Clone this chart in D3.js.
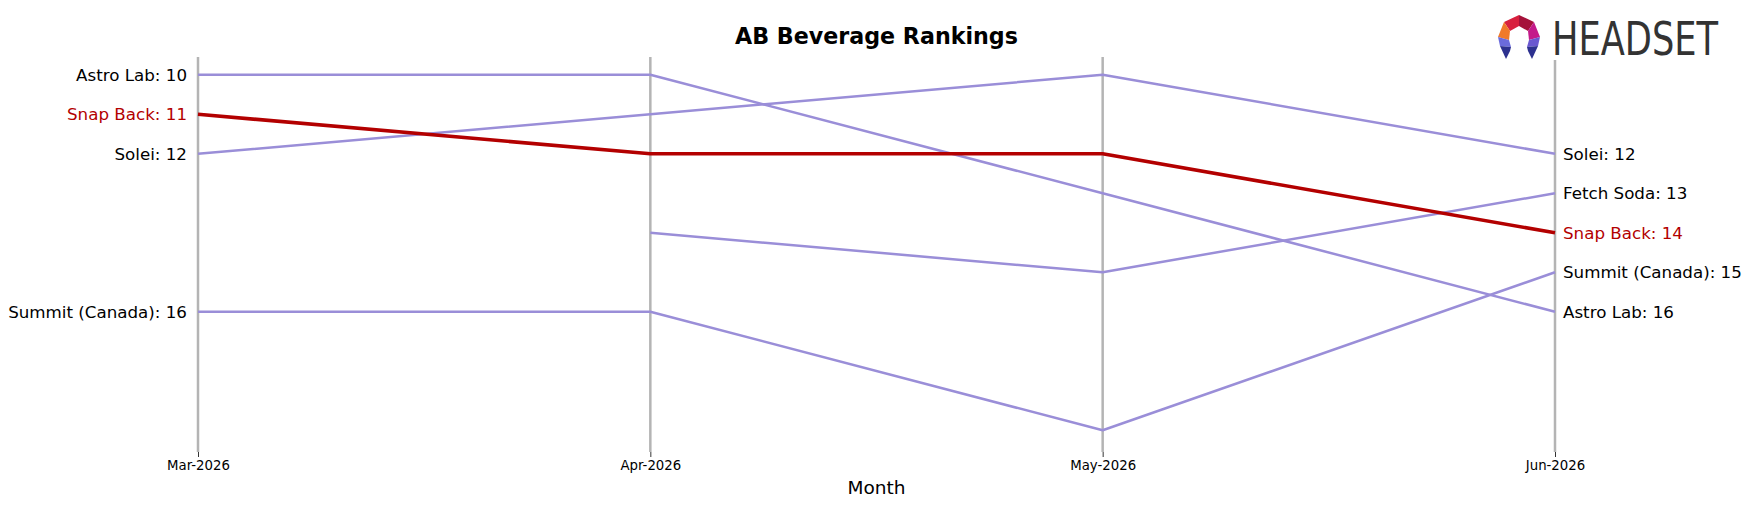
<!DOCTYPE html>
<html>
<head>
<meta charset="utf-8">
<script src="https://cdn.jsdelivr.net/npm/d3@7"></script>
<style>
  body { margin: 0; background: #fff; }
  text { font-family: "DejaVu Sans", sans-serif; }
</style>
</head>
<body>
<div id="chart"></div>
<script>
// data
const months = ["Mar-2026", "Apr-2026", "May-2026", "Jun-2026"];
const brands = ["Astro Lab", "Solei", "Fetch Soda", "Summit (Canada)", "Snap Back"];
const astroLab = [10, 10, 13, 16];
const solei = [12, 11, 10, 12];
const fetchSoda = [null, 14, 15, 13];
const summitCanada = [16, 16, 19, 15];
const snapBack = [11, 12, 12, 14];
const highlight = "Snap Back";

const rankRows = [astroLab, solei, fetchSoda, summitCanada, snapBack];

const width = 1751,
  height = 507,
  margin = { top: 57, right: 196, bottom: 55, left: 198 };

const purple = "#9a8ed8",
  red = "#b30000";

const svg = d3
  .select("#chart")
  .append("svg")
  .attr("width", width)
  .attr("height", height)
  .attr("viewBox", [0, 0, width, height]);

const x = d3
  .scalePoint()
  .domain(months)
  .range([margin.left, width - margin.right]);

const y = d3
  .scaleLinear()
  .domain([9.55, 19.55])
  .range([margin.top, height - margin.bottom]);

// grey vertical month lines
svg
  .append("g")
  .selectAll("line")
  .data(months)
  .join("line")
  .attr("x1", (d) => x(d))
  .attr("x2", (d) => x(d))
  .attr("y1", y.range()[0])
  .attr("y2", y.range()[1])
  .attr("stroke", "#b4b4b4")
  .attr("stroke-width", 2.5);

// x axis (ticks + labels)
const xAxis = svg
  .append("g")
  .attr("transform", `translate(0,${y.range()[1]})`)
  .call(d3.axisBottom(x).tickSize(5).tickPadding(4));
xAxis.select(".domain").remove();
xAxis.selectAll("line").attr("stroke", "#000").attr("stroke-width", 0.8);
xAxis
  .selectAll("text")
  .attr("font-family", "DejaVu Sans")
  .attr("font-size", 13.3)
  .attr("fill", "#000");

const line = d3
  .line()
  .defined((d) => d.rank != null)
  .x((d) => x(d.month))
  .y((d) => y(d.rank));

const series = brands.map((b, i) => ({
  name: b,
  values: months.map((m, j) => ({ month: m, rank: rankRows[i][j] })),
}));

// others first, highlighted brand on top
const ordered = series
  .filter((s) => s.name !== highlight)
  .concat(series.filter((s) => s.name === highlight));

for (let s of ordered) {
  const isHi = s.name === highlight;
  svg
    .append("path")
    .datum(s.values)
    .attr("d", line)
    .attr("fill", "none")
    .attr("stroke", isHi ? red : purple)
    .attr("stroke-width", isHi ? 3.6 : 2.5)
    .attr("stroke-linejoin", "round");

  const first = s.values[0];
  if (first.rank != null) {
    svg
      .append("text")
      .attr("x", x(first.month) - 11)
      .attr("y", y(first.rank))
      .attr("text-anchor", "end")
      .attr("dominant-baseline", "central")
      .attr("font-size", 16.7)
      .attr("fill", isHi ? red : "#000")
      .text(`${s.name}: ${first.rank}`);
  }
  const last = s.values[s.values.length - 1];
  if (last.rank != null) {
    svg
      .append("text")
      .attr("x", x(last.month) + 8)
      .attr("y", y(last.rank))
      .attr("dominant-baseline", "central")
      .attr("font-size", 16.7)
      .attr("fill", isHi ? red : "#000")
      .text(`${s.name}: ${last.rank}`);
  }
}

// title and axis label
svg
  .append("text")
  .attr("x", (margin.left + width - margin.right) / 2)
  .attr("y", 44)
  .attr("text-anchor", "middle")
  .attr("font-size", 22.2)
  .attr("font-weight", "bold")
  .attr("fill", "#000")
  .text("AB Beverage Rankings");

svg
  .append("text")
  .attr("x", (margin.left + width - margin.right) / 2)
  .attr("y", 494)
  .attr("text-anchor", "middle")
  .attr("font-size", 18.5)
  .attr("fill", "#000")
  .text("Month");

// logo (white box covers the top of the last month line)
const logo = svg.append("g");
logo
  .append("rect")
  .attr("x", 1490)
  .attr("y", 8)
  .attr("width", 236)
  .attr("height", 52)
  .attr("fill", "#fff");

const icon = logo.append("g").attr("transform", "translate(1496,15)");
const pieces = [
  { pts: "23,0 8,7 14,16 23,11", c: "#d8203e" },
  { pts: "23,0 38,7 32,16 23,11", c: "#a5123a" },
  { pts: "8,7 2,22 13,25 14,16", c: "#f07a2a" },
  { pts: "38,7 44,22 33,25 32,16", c: "#c41a8a" },
  { pts: "2,22 13,25 15,32 4,31", c: "#6b6bdc" },
  { pts: "44,22 33,25 31,32 42,31", c: "#6a58d0" },
  { pts: "4,31 15,32 14,36 10,44", c: "#2d318f" },
  { pts: "42,31 31,32 32,36 36,44", c: "#2d318f" },
];
icon
  .selectAll("polygon")
  .data(pieces)
  .join("polygon")
  .attr("points", (d) => d.pts)
  .attr("fill", (d) => d.c);

logo
  .append("text")
  .attr("x", 1552)
  .attr("y", 55)
  .attr("font-family", "DejaVu Sans Condensed, DejaVu Sans")
  .attr("font-stretch", "condensed")
  .attr("font-size", 47)
  .attr("fill", "#333")
  .attr("textLength", 166)
  .attr("lengthAdjust", "spacingAndGlyphs")
  .text("HEADSET");
</script>
</body>
</html>
